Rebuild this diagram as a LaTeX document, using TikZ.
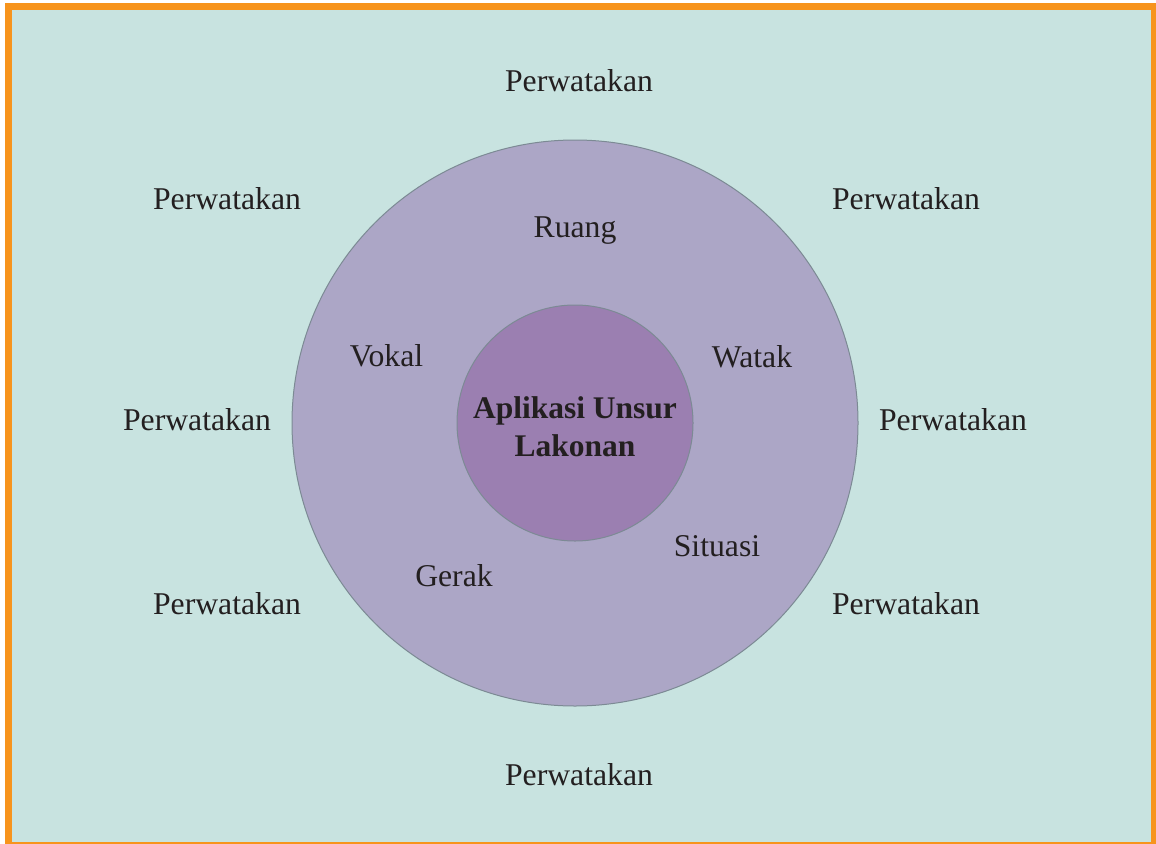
\documentclass[tikz,border=0pt]{standalone}
\usepackage{fontspec}
\setmainfont{Liberation Serif}
\definecolor{bgc}{HTML}{C8E3E0}
\definecolor{framec}{HTML}{F7941D}
\definecolor{outerc}{HTML}{ACA6C6}
\definecolor{innerc}{HTML}{9B7FB1}
\definecolor{edgec}{HTML}{7C8A94}
\definecolor{txtc}{HTML}{231F20}
\begin{document}
\begin{tikzpicture}[x=1pt,y=-1pt,
  lbl/.style={anchor=base,inner sep=0pt,text=txtc,font=\fontsize{31.7}{36}\selectfont},
  ring/.style={circle,draw=edgec,line width=1pt,inner sep=0pt}]
\useasboundingbox (0,0) rectangle (1156,843);
\fill[white] (0,0) rectangle (1156,843);
\fill[bgc] (8.5,6.5) rectangle (1154.5,845.5);
\draw[framec,line width=7pt] (8.5,6.5) rectangle (1154.5,845.5);
\node[ring,fill=outerc,minimum size=566pt] (outer) at (575,423) {};
\node[ring,fill=innerc,minimum size=236pt] (inner) at (575,423) {};
\node[lbl,font=\fontsize{31.5}{36}\bfseries\selectfont] (t1) at (575,418) {Aplikasi Unsur};
\node[lbl,font=\fontsize{31.5}{36}\bfseries\selectfont] (t2) at (575,456) {Lakonan};
\node[lbl] (ruang) at (575,237) {Ruang};
\node[lbl] (vokal) at (386.5,366) {Vokal};
\node[lbl] (watak) at (752,367) {Watak};
\node[lbl] (gerak) at (454,586) {Gerak};
\node[lbl] (situasi) at (717,556) {Situasi};
\node[lbl] (p1) at (579,91.5) {Perwatakan};
\node[lbl] (p2) at (227,209.5) {Perwatakan};
\node[lbl] (p3) at (906,209.5) {Perwatakan};
\node[lbl] (p4) at (197,430.5) {Perwatakan};
\node[lbl] (p5) at (953,430.5) {Perwatakan};
\node[lbl] (p6) at (227,614.5) {Perwatakan};
\node[lbl] (p7) at (906,614.5) {Perwatakan};
\node[lbl] (p8) at (579,785.5) {Perwatakan};
\end{tikzpicture}
\end{document}
